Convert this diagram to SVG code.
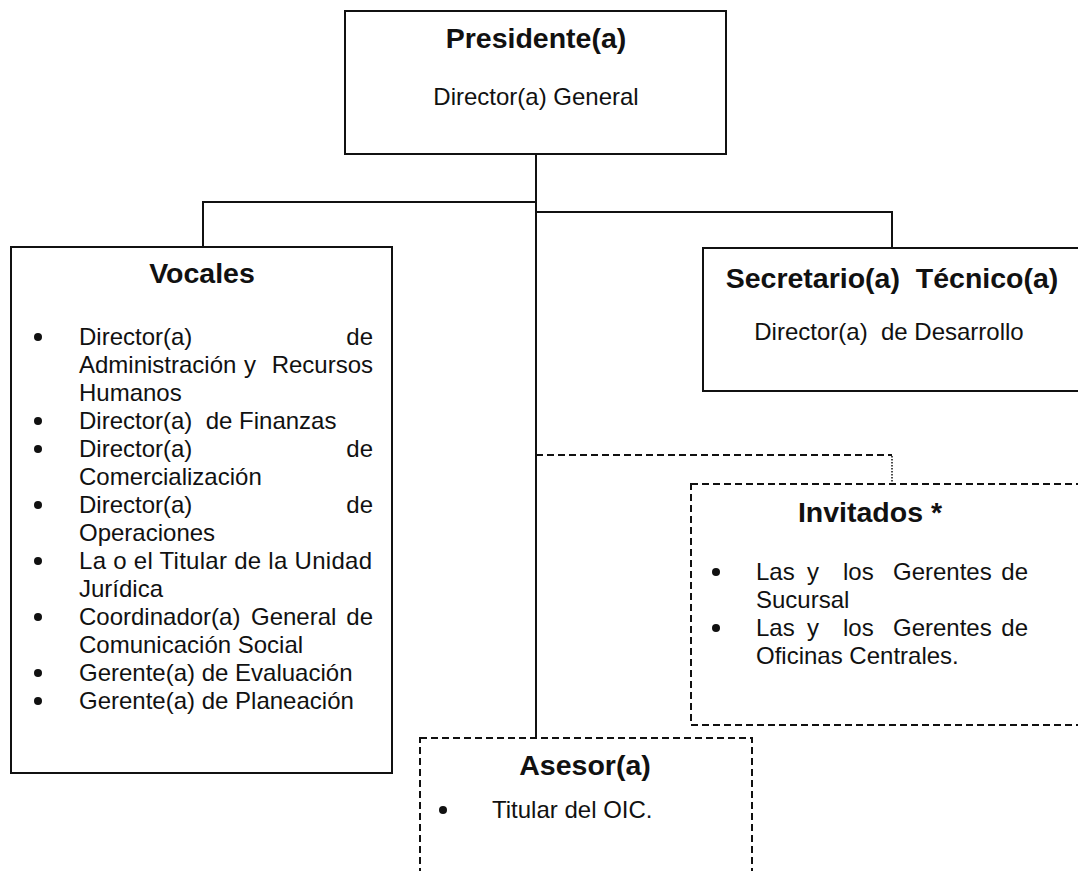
<svg xmlns="http://www.w3.org/2000/svg" width="1078" height="871" viewBox="0 0 1078 871">
<style>
.box{fill:#fff;stroke:#111;stroke-width:2}
.dbox{fill:#fff;stroke:#111;stroke-width:2;stroke-dasharray:7 4}
.ln{fill:none;stroke:#111;stroke-width:2}
.dln{fill:none;stroke:#111;stroke-width:2;stroke-dasharray:7 4}
.dot{fill:none;stroke:#111;stroke-width:1.5;stroke-dasharray:1.5 1.5}
.t{font-family:"Liberation Sans",Arial,sans-serif;font-weight:bold;font-size:28.5px;fill:#111;text-anchor:middle}
.r{font-family:"Liberation Sans",Arial,sans-serif;font-size:24px;fill:#111}
.e{text-anchor:end}
.m{text-anchor:middle}
.b{fill:#111}
</style>
<rect width="1078" height="871" fill="#fff"/>
<g id="connectors">
<path class="ln" d="M536 154 V737"/>
<path class="ln" d="M536 202 H203 V247"/>
<path class="ln" d="M536 212 H892 V248"/>
<path class="dln" d="M536 455 H892"/>
<path class="dot" d="M892 456 V484"/>
</g>
<g id="presidente">
<rect class="box" x="345" y="11" width="381" height="143"/>
<text class="t" x="536" y="48">Presidente(a)</text>
<text class="r m" x="536" y="105">Director(a) General</text>
</g>
<g id="vocales">
<rect class="box" x="11" y="247" width="381" height="526"/>
<text class="t" x="202" y="283">Vocales</text>
<circle class="b" cx="38" cy="337" r="4"/>
<circle class="b" cx="38" cy="421" r="4"/>
<circle class="b" cx="38" cy="449" r="4"/>
<circle class="b" cx="38" cy="505" r="4"/>
<circle class="b" cx="38" cy="561" r="4"/>
<circle class="b" cx="38" cy="617" r="4"/>
<circle class="b" cx="38" cy="673" r="4"/>
<circle class="b" cx="38" cy="701" r="4"/>
<text class="r" x="79" y="345">Director(a)</text>
<text class="r e" x="373" y="345">de</text>
<text class="r" x="79" y="373">Administración</text>
<text class="r" x="244" y="373">y</text>
<text class="r e" x="373" y="373">Recursos</text>
<text class="r" x="79" y="401">Humanos</text>
<text class="r" x="79" y="429" xml:space="preserve">Director(a)  de Finanzas</text>
<text class="r" x="79" y="457">Director(a)</text>
<text class="r e" x="373" y="457">de</text>
<text class="r" x="79" y="485">Comercialización</text>
<text class="r" x="79" y="513">Director(a)</text>
<text class="r e" x="373" y="513">de</text>
<text class="r" x="79" y="541">Operaciones</text>
<text class="r" x="79" y="569" textLength="293" lengthAdjust="spacing">La o el Titular de la Unidad</text>
<text class="r" x="79" y="597">Jurídica</text>
<text class="r" x="79" y="625">Coordinador(a)</text>
<text class="r" x="251" y="625">General</text>
<text class="r e" x="373" y="625">de</text>
<text class="r" x="79" y="653">Comunicación Social</text>
<text class="r" x="79" y="681">Gerente(a) de Evaluación</text>
<text class="r" x="79" y="709">Gerente(a) de Planeación</text>
</g>
<g id="secretario">
<rect class="box" x="703" y="248" width="390" height="143"/>
<text class="t" x="892" y="288" xml:space="preserve">Secretario(a)  Técnico(a)</text>
<text class="r m" x="889" y="340" xml:space="preserve">Director(a)  de Desarrollo</text>
</g>
<g id="invitados">
<rect class="dbox" x="691" y="484" width="400" height="241"/>
<text class="t" x="870" y="522">Invitados *</text>
<circle class="b" cx="716" cy="572" r="4"/>
<circle class="b" cx="716" cy="628" r="4"/>
<text class="r" x="756" y="580">Las</text>
<text class="r" x="807" y="580">y</text>
<text class="r" x="843" y="580">los</text>
<text class="r" x="893" y="580">Gerentes</text>
<text class="r e" x="1028" y="580">de</text>
<text class="r" x="756" y="608">Sucursal</text>
<text class="r" x="756" y="636">Las</text>
<text class="r" x="807" y="636">y</text>
<text class="r" x="843" y="636">los</text>
<text class="r" x="893" y="636">Gerentes</text>
<text class="r e" x="1028" y="636">de</text>
<text class="r" x="756" y="664">Oficinas Centrales.</text>
</g>
<g id="asesor">
<rect class="dbox" x="420" y="738" width="332" height="160"/>
<text class="t" x="585" y="775">Asesor(a)</text>
<circle class="b" cx="443" cy="810" r="4"/>
<text class="r" x="492" y="818">Titular del OIC.</text>
</g>
</svg>
